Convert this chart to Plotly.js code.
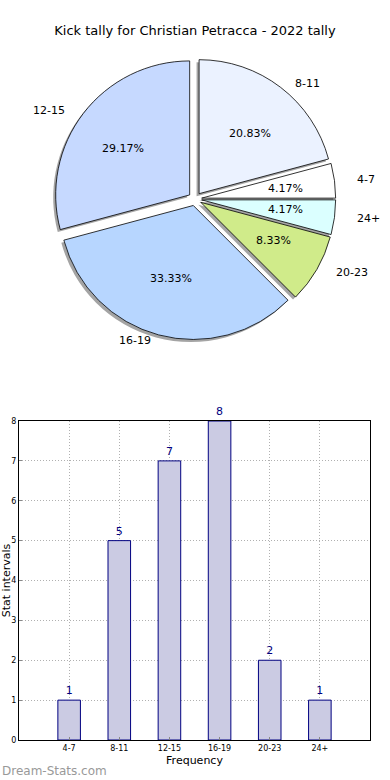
<!DOCTYPE html>
<html>
<head>
<meta charset="utf-8">
<script src="https://cdn.plot.ly/plotly-3.0.1.min.js"></script>
<style>html,body{margin:0;padding:0;background:#fff}#chart{width:390px;height:780px}</style>
</head>
<body>
<div id="chart"></div>
<script>
// Data
const categories = ["4-7", "8-11", "12-15", "16-19", "20-23", "24+"];
const counts = [1, 5, 7, 8, 2, 1];
const sliceColors = ["#ffffff", "#ebf2ff", "#c6d9ff", "#b7d6ff", "#d0eb8a", "#dbffff"];
// Pie drawing order (clockwise from 12 o'clock)
const pieOrder = ["8-11", "4-7", "24+", "20-23", "16-19", "12-15"];

const pieLabels = pieOrder;
const pieValues = pieOrder.map(c => counts[categories.indexOf(c)]);
const pieColors = pieOrder.map(c => sliceColors[categories.indexOf(c)]);
const total = pieValues.reduce((a, b) => a + b, 0);

const W = 390, H = 780;
const pull = 0.05;
const cx = 195, cy = 199, R = 134;
const textRx = 140, textRy = 127;
const half = R * (1 + pull);
function dom(dx, dy) {
  return {
    x: [(cx + dx - half) / W, (cx + dx + half) / W],
    y: [1 - (cy + dy + half) / H, 1 - (cy + dy - half) / H]
  };
}

const shadow = {
  type: "pie", labels: pieLabels, values: pieValues, sort: false,
  direction: "clockwise", rotation: 0, pull: pull,
  marker: { colors: pieLabels.map(() => "rgba(90,90,90,0.55)"), line: { width: 0 } },
  textinfo: "none", hoverinfo: "skip", showlegend: false,
  domain: dom(-2.5, 2.5)
};
const mainPie = {
  type: "pie", labels: pieLabels, values: pieValues, sort: false,
  direction: "clockwise", rotation: 0, pull: pull,
  marker: { colors: pieColors, line: { color: "#000", width: 0.8 } },
  textinfo: "none", hoverinfo: "label+percent",
  showlegend: false, domain: dom(0, 0)
};

// Slice text (percent inside, label outside) placed from the slice angles
const pieAnnotations = [];
let cum = 0;
pieValues.forEach((v, i) => {
  const theta = (90 - 360 * (cum + v / 2) / total) * Math.PI / 180;
  cum += v;
  const c = Math.cos(theta), s = Math.sin(theta);
  const kp = 0.6 + pull, kl = 1.1 + pull;
  const pct = (100 * v / total).toFixed(2) + "%";
  pieAnnotations.push({
    text: pct, xref: "paper", yref: "paper",
    x: (cx + kp * textRx * c) / W, y: 1 - (cy - kp * textRy * s) / H,
    xanchor: "center", yanchor: "middle", showarrow: false,
    font: { family: "DejaVu Sans", size: 11, color: "#000" }
  });
  pieAnnotations.push({
    text: pieLabels[i], xref: "paper", yref: "paper",
    x: (cx + kl * textRx * c) / W, y: 1 - (cy - kl * textRy * s) / H,
    xanchor: c >= 0 ? "left" : "right", yanchor: "middle", showarrow: false,
    font: { family: "DejaVu Sans", size: 11, color: "#000" }
  });
});

const bars = {
  type: "bar", x: categories.map((c, i) => i), y: counts,
  width: 0.45,
  marker: { color: "#cbcbe3", line: { color: "#000080", width: 1 } },
  text: counts.map(String), textposition: "outside", cliponaxis: false,
  constraintext: "none",
  textfont: { family: "DejaVu Sans", size: 11, color: "#000080" },
  xaxis: "x", yaxis: "y", showlegend: false, hoverinfo: "x+y"
};

const layout = {
  width: W, height: H,
  margin: { l: 0, r: 0, t: 0, b: 0 },
  paper_bgcolor: "#fff", plot_bgcolor: "#fff",
  font: { family: "DejaVu Sans", color: "#000" },
  title: { text: "Kick tally for Christian Petracca - 2022 tally", x: 0.5, xanchor: "center",
           y: 1 - 30 / H, yanchor: "middle", font: { family: "DejaVu Sans", size: 13, color: "#000" } },
  xaxis: {
    domain: [19 / W, 370 / W], range: [-1, 6],
    tickmode: "array", tickvals: categories.map((c, i) => i), ticktext: categories,
    tickfont: { size: 8 }, showline: true, linecolor: "#000", linewidth: 1, mirror: true,
    showgrid: true, gridcolor: "#b0b0b0", griddash: "1px,2px", gridwidth: 1,
    ticks: "inside", ticklen: 3, tickcolor: "#888", zeroline: false,
    title: { text: "Frequency", font: { size: 11 }, standoff: 4 }, automargin: false
  },
  yaxis: {
    domain: [1 - 740 / H, 1 - 421 / H], range: [0, 8], dtick: 1,
    tickfont: { size: 8 }, showline: true, linecolor: "#000", linewidth: 1, mirror: true,
    showgrid: true, gridcolor: "#b0b0b0", griddash: "1px,2px", gridwidth: 1,
    ticks: "inside", ticklen: 3, tickcolor: "#888", zeroline: false,
    title: { text: "Stat intervals", font: { size: 11 }, standoff: 0 }, automargin: false
  },
  annotations: pieAnnotations.concat([{
    text: "Dream-Stats.com", xref: "paper", yref: "paper", x: 0, y: 1 - 771 / H,
    xanchor: "left", yanchor: "middle", showarrow: false,
    font: { family: "DejaVu Sans", size: 12, color: "#999999" }
  }])
};

Plotly.newPlot("chart", [shadow, mainPie, bars], layout, { displayModeBar: false, staticPlot: true });
</script>
</body>
</html>
